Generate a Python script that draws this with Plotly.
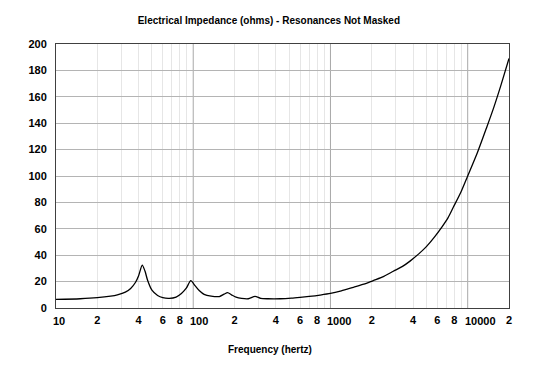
import math
import plotly.graph_objects as go

freq_hz = [10, 15, 20, 25, 28, 32, 35, 38, 40, 42.5, 44.5, 46.5, 50, 55, 60, 67,
           75, 82, 89, 96, 103, 111, 120, 135, 155, 168, 178, 190, 205, 225, 252,
           282, 310, 350, 430, 520, 600, 700, 840, 1000, 1200, 1470, 1750, 2050,
           2450, 2870, 3350, 3800, 4400, 5000, 5700, 6500, 7200, 7870, 8900,
           10000, 11800, 13770, 15500, 17500, 20000]
impedance_ohm = [6.5, 7.0, 7.8, 9.0, 10.0, 12.0, 14.8, 19.5, 24.5, 32.5, 28.0,
                 21.0, 13.5, 9.5, 7.8, 7.3, 8.3, 11.0, 15.0, 20.7, 17.0, 13.0,
                 10.3, 9.0, 8.7, 10.5, 11.6, 10.0, 8.3, 7.3, 7.0, 8.8, 7.3, 7.0,
                 7.0, 7.5, 8.1, 8.8, 9.8, 11.0, 13.0, 15.7, 18.0, 20.8, 24.0,
                 27.8, 31.5, 35.5, 41.0, 46.5, 53.5, 61.5, 68.5, 76.5, 87.5,
                 100.0, 118.0, 137.0, 152.0, 169.0, 189.0]

# in-decade tick labels
x_tick_vals = [20, 40, 60, 80, 200, 400, 600, 800, 2000, 4000, 6000, 8000, 20000]
x_tick_text = ["2", "4", "6", "8", "2", "4", "6", "8", "2", "4", "6", "8", "2"]
# decade labels (left-aligned at their gridline as in the original)
x_decade_vals = [10, 100, 1000, 10000]
x_decade_text = ["10", "100", "1000", "10000"]

x_minor_vals = [m * d for d in (10, 100, 1000, 10000) for m in range(2, 10)
                if m * d <= 20000]
x_decades = [100, 1000, 10000]
y_tick_vals = list(range(0, 201, 20))

font_family = "Liberation Sans, Arial, sans-serif"

fig = go.Figure()
fig.add_trace(go.Scatter(
    x=freq_hz, y=impedance_ohm, mode="lines",
    line=dict(color="#000000", width=1.3, shape="spline", smoothing=0.7),
    hoverinfo="x+y", showlegend=False,
))

for d in x_decades:
    fig.add_shape(type="line", xref="x", yref="paper", x0=d, x1=d, y0=0, y1=1,
                  line=dict(color="#a8a8a8", width=1), layer="below")

for v, t in zip(x_decade_vals, x_decade_text):
    fig.add_annotation(x=math.log10(v), xref="x", y=0, yref="paper",
                       text=f"<b>{t}</b>",
                       showarrow=False, xanchor="left", yanchor="middle",
                       xshift=-5, yshift=-13,
                       font=dict(size=11, family=font_family, color="#000000"))

fig.add_annotation(x=0.472, xref="paper", y=0, yref="paper",
                   text="<b>Frequency (hertz)</b>", showarrow=False,
                   xanchor="center", yanchor="middle", yshift=-41,
                   font=dict(size=10, family=font_family, color="#000000"))

fig.update_layout(
    width=527, height=360,
    margin=dict(l=48, r=26, t=36, b=60, autoexpand=False),
    paper_bgcolor="white", plot_bgcolor="white",
    title=dict(text="<b>Electrical Impedance (ohms) - Resonances Not Masked</b>",
               x=0.495, xanchor="center", y=0.965, yanchor="middle",
               font=dict(family=font_family, size=10, color="#000000")),
    font=dict(family=font_family, color="#000000"),
)

fig.update_xaxes(
    type="log", range=[1, 4.30103], automargin=False, tickangle=0,
    tickmode="array", tickvals=x_tick_vals, ticktext=[f"<b>{t}</b>" for t in x_tick_text],
    ticks="", tickfont=dict(size=11, family=font_family),
    showgrid=True, gridcolor="#e6e6e6", gridwidth=1,
    minor=dict(tickvals=x_minor_vals, showgrid=True, gridcolor="#e6e6e6", ticks=""),
    showline=True, mirror=True, linecolor="#404040", linewidth=1,
    zeroline=False, ticklabelstandoff=2,
)
fig.update_yaxes(
    range=[0, 200], automargin=False, tickmode="array", tickvals=y_tick_vals,
    ticktext=[f"<b>{v}</b>" for v in y_tick_vals],
    ticks="", tickfont=dict(size=11, family=font_family),
    showgrid=True, gridcolor="#b4b4b4", gridwidth=1,
    showline=True, mirror=True, linecolor="#404040", linewidth=1,
    zeroline=False, ticklabelstandoff=6,
)

fig.write_html("out.html")
